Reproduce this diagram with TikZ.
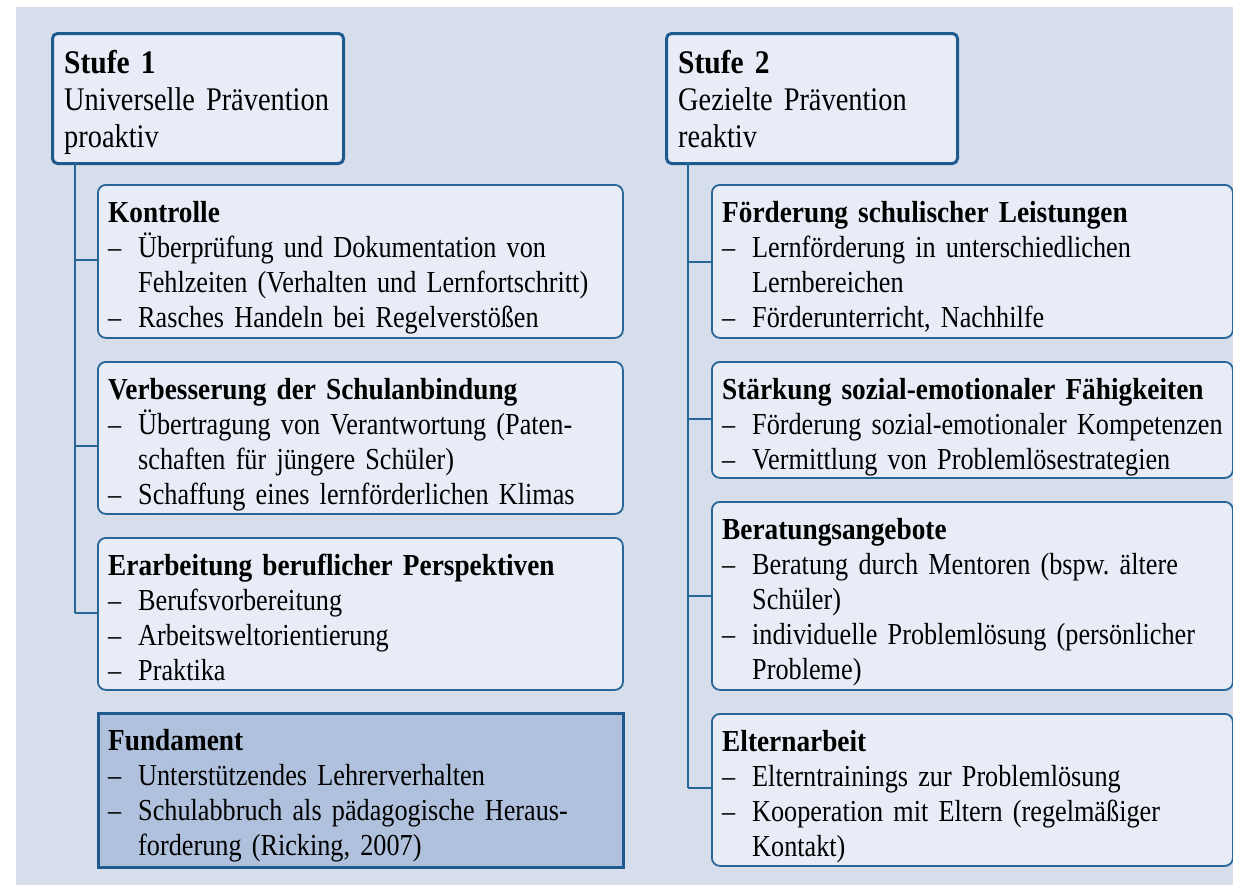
\documentclass[tikz,border=0pt]{standalone}
\usepackage{fontspec}
\setmainfont{Liberation Serif}[FakeStretch=0.86, WordSpace=0.7, BoldFeatures={FakeStretch=0.895}]
\usetikzlibrary{calc}
\frenchspacing
\definecolor{bgc}{RGB}{214,222,236}
\definecolor{boxc}{RGB}{231,236,246}
\definecolor{fundc}{RGB}{175,193,221}
\definecolor{linec}{RGB}{30,90,142}
\definecolor{linec2}{RGB}{40,102,152}
\newcommand\stufefont{\fontsize{33}{37}\selectfont}
\newcommand\itemfont{\fontsize{30.5}{35}\selectfont}
\newcommand\myb{\makebox[30pt][l]{–}}
\newcommand\myc{\hspace*{30pt}}
\tikzset{
  stufebox/.style={draw=linec, line width=3pt, fill=boxc, rounded corners=5pt, anchor=north west, inner sep=0pt, minimum width=291pt, minimum height=130pt},
  itembox/.style={draw=linec2, line width=1.8pt, fill=boxc, rounded corners=8pt, anchor=north west, inner sep=0pt},
  fundbox/.style={draw=linec, line width=3.2pt, fill=fundc, anchor=north west, inner sep=0pt},
  txt/.style={anchor=base west, inner sep=0pt, text width=600pt, align=left, font=\itemfont},
  stxt/.style={anchor=base west, inner sep=0pt, text width=600pt, align=left, font=\stufefont},
  conn/.style={draw=linec2, line width=1.8pt},
}
\begin{document}
\frenchspacing
\begin{tikzpicture}[x=1pt,y=-1pt]
\useasboundingbox (0,0) rectangle (1233,884);
\fill[bgc] (16,7) rectangle (1240,890);

% trunk lines
\coordinate (L0) at (75,162);
\coordinate (L1) at (75,260);
\coordinate (L2) at (75,446);
\coordinate (L3) at (75,613);
\coordinate (R0) at (688,162);
\coordinate (R1) at (688,262);
\coordinate (R2) at (688,419);
\coordinate (R3) at (688,596);
\coordinate (R4) at (688,788);

% Stufe boxes
\node[stufebox] (s1) at (51,32) {};
\node[stufebox] (s2) at (665,32) {};
\node[stxt] (s1t) at ($(s1.north west)+(13,41)$) {\textbf{Stufe 1}\\Universelle Prävention\\proaktiv};
\node[stxt] (s2t) at ($(s2.north west)+(13,41)$) {\textbf{Stufe 2}\\Gezielte Prävention\\reaktiv};

% left column
\node[itembox, minimum width=525pt, minimum height=153pt] (k) at (97,184) {};
\node[itembox, minimum width=525pt, minimum height=152pt] (v) at (97,361) {};
\node[itembox, minimum width=525pt, minimum height=152pt] (e) at (97,537) {};
\node[fundbox, minimum width=525pt, minimum height=154pt] (f) at (97,712) {};

\node[txt] (kt) at ($(k.north west)+(11,38)$) {\textbf{Kontrolle}\\
\myb Überprüfung und Dokumentation von\\
\myc Fehlzeiten (Verhalten und Lernfortschritt)\\
\myb Rasches Handeln bei Regelverstößen};
\node[txt] (vt) at ($(v.north west)+(11,38)$) {\textbf{Verbesserung der Schulanbindung}\\
\myb Übertragung von Verantwortung (Paten-\\
\myc schaften für jüngere Schüler)\\
\myb Schaffung eines lernförderlichen Klimas};
\node[txt] (et) at ($(e.north west)+(11,38)$) {\textbf{Erarbeitung beruflicher Perspektiven}\\
\myb Berufsvorbereitung\\
\myb Arbeitsweltorientierung\\
\myb Praktika};
\node[txt] (ft) at ($(f.north west)+(11,38)$) {\textbf{Fundament}\\
\myb Unterstützendes Lehrerverhalten\\
\myb Schulabbruch als pädagogische Heraus-\\
\myc forderung (Ricking, 2007)};

% right column
\node[itembox, minimum width=521pt, minimum height=153pt] (a) at (711,184) {};
\node[itembox, minimum width=521pt, minimum height=116pt] (b) at (711,361) {};
\node[itembox, minimum width=521pt, minimum height=188pt] (c) at (711,501) {};
\node[itembox, minimum width=521pt, minimum height=152pt] (d) at (711,713) {};

\node[txt] (at) at ($(a.north west)+(11,38)$) {\textbf{Förderung schulischer Leistungen}\\
\myb Lernförderung in unterschiedlichen\\
\myc Lernbereichen\\
\myb Förderunterricht, Nachhilfe};
\node[txt] (bt) at ($(b.north west)+(11,38)$) {\textbf{Stärkung sozial-emotionaler Fähigkeiten}\\
\myb Förderung sozial-emotionaler Kompetenzen\\
\myb Vermittlung von Problemlösestrategien};
\node[txt] (ct) at ($(c.north west)+(11,38)$) {\textbf{Beratungsangebote}\\
\myb Beratung durch Mentoren (bspw. ältere\\
\myc Schüler)\\
\myb individuelle Problemlösung (persönlicher\\
\myc Probleme)};
\node[txt] (dt) at ($(d.north west)+(11,38)$) {\textbf{Elternarbeit}\\
\myb Elterntrainings zur Problemlösung\\
\myb Kooperation mit Eltern (regelmäßiger\\
\myc Kontakt)};

% connectors
\draw[conn] (L0) -- (L3);
\draw[conn] (L1) -- (L1 -| k.west);
\draw[conn] (L2) -- (L2 -| v.west);
\draw[conn] (L3) -- (L3 -| e.west);
\draw[conn] (R0) -- (R4);
\draw[conn] (R1) -- (R1 -| a.west);
\draw[conn] (R2) -- (R2 -| b.west);
\draw[conn] (R3) -- (R3 -| c.west);
\draw[conn] (R4) -- (R4 -| d.west);
\end{tikzpicture}
\end{document}
